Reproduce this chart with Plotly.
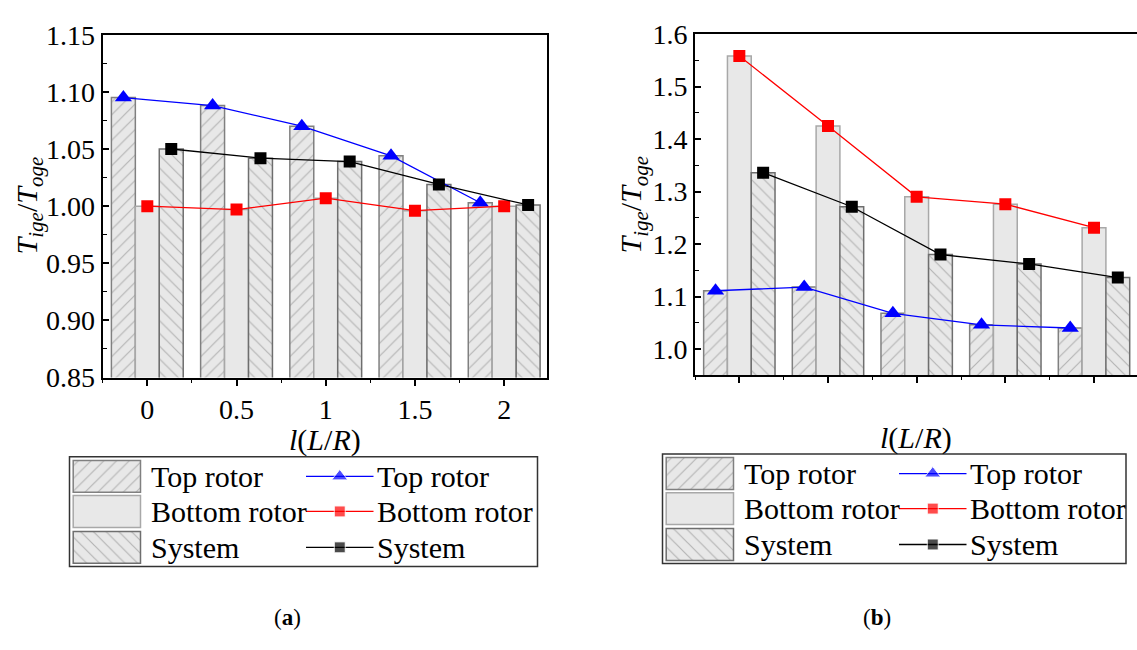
import plotly.graph_objects as go

# ---------------- data ----------------
x_pos = [0, 0.5, 1, 1.5, 2]
x_labels = ["0", "0.5", "1", "1.5", "2"]
series_names = ["Top rotor", "Bottom rotor", "System"]

a_top = [1.095, 1.088, 1.070, 1.044, 1.003]
a_bottom = [1.000, 0.997, 1.007, 0.996, 1.000]
a_system = [1.050, 1.042, 1.039, 1.019, 1.001]

b_top = [1.111, 1.118, 1.068, 1.046, 1.040]
b_bottom = [1.558, 1.425, 1.290, 1.276, 1.231]
b_system = [1.336, 1.271, 1.180, 1.162, 1.136]

a_yticks = [0.85, 0.90, 0.95, 1.00, 1.05, 1.10, 1.15]
b_yticks = [1.0, 1.1, 1.2, 1.3, 1.4, 1.5, 1.6]

# ---------------- style ----------------
W, H = 1137, 650
FONT = "Liberation Serif"
FS_TICK = 28
FS_LEG = 30
FS_TITLE = 30
BARGAP = 0.195
BAR_BG = "#e8e8e8"
HATCH = "#808080"
patterns = ["/", "", "\\"]
outline = ["#808080", "#a8a8a8", "#6e6e6e"]
line_colors = ["#0000ff", "#ff0000", "#000000"]
symbols = ["triangle-up", "square", "square"]
msizes = [15, 12, 12]

spacing = x_pos[1] - x_pos[0]
bar_w = (1 - BARGAP) * spacing / 3
offsets = [-bar_w, 0, bar_w]


def px_x(v):
    return v / W


def px_y(v):
    return 1 - v / H


fig = go.Figure()

panels = [
    dict(xa="x", ya="y", data=[a_top, a_bottom, a_system]),
    dict(xa="x2", ya="y2", data=[b_top, b_bottom, b_system]),
]

for p in panels:
    for i, vals in enumerate(p["data"]):
        fig.add_trace(go.Bar(
            x=x_pos, y=vals, name=series_names[i], xaxis=p["xa"], yaxis=p["ya"],
            offsetgroup=str(i), showlegend=False,
            marker=dict(color=BAR_BG,
                        line=dict(color=outline[i], width=1.5),
                        pattern=dict(shape=patterns[i], fgcolor=HATCH, bgcolor=BAR_BG,
                                     size=9, solidity=0.13)),
        ))
    for i, vals in enumerate(p["data"]):
        fig.add_trace(go.Scatter(
            x=[xv + offsets[i] for xv in x_pos], y=vals, name=series_names[i],
            xaxis=p["xa"], yaxis=p["ya"], mode="lines+markers", showlegend=False,
            line=dict(color=line_colors[i], width=1.3),
            marker=dict(symbol=symbols[i], size=msizes[i], color=line_colors[i]),
        ))

# ---------------- custom legends ----------------
row_c = [20.5, 57.3, 95.0]
sw_h = 33.5
sw_x0, sw_w = 3.7, 67.3
txt1_x = 79
ln_x0, ln_x1 = 236.5, 304
txt2_x = 305

legend_boxes = [
    dict(xa="x3", ya="y3", x0=69.5, x1=537.5, y0=464, y1=579),
    dict(xa="x4", ya="y4", x0=662.5, x1=1126, y0=461, y1=576),
]
annotations = []
shapes = []
for lb in legend_boxes:
    fig.add_trace(go.Bar(
        y=row_c, x=[sw_w] * 3, base=sw_x0, orientation="h", width=sw_h,
        xaxis=lb["xa"], yaxis=lb["ya"], showlegend=False, hoverinfo="skip",
        marker=dict(color=BAR_BG, line=dict(color=outline, width=1.5),
                    pattern=dict(shape=patterns, fgcolor=HATCH, bgcolor=BAR_BG,
                                 size=9, solidity=0.13)),
    ))
    for i, name in enumerate(series_names):
        fig.add_trace(go.Scatter(
            x=[ln_x0, (ln_x0 + ln_x1) / 2, ln_x1], y=[row_c[i]] * 3,
            xaxis=lb["xa"], yaxis=lb["ya"], mode="lines+markers", showlegend=False,
            hoverinfo="skip",
            line=dict(color=line_colors[i], width=1.3),
            marker=dict(symbol=symbols[i], size=[0, msizes[i] - 1, 0], color=line_colors[i]),
        ))
        annotations.append(dict(x=txt1_x, y=row_c[i], xref=lb["xa"], yref=lb["ya"],
                                text=name, showarrow=False, xanchor="left", yanchor="middle",
                                font=dict(family=FONT, size=FS_LEG, color="black")))
        annotations.append(dict(x=txt2_x, y=row_c[i], xref=lb["xa"], yref=lb["ya"],
                                text=name, showarrow=False, xanchor="left", yanchor="middle",
                                font=dict(family=FONT, size=FS_LEG, color="black")))
    shapes.append(dict(type="rect", xref="paper", yref="paper",
                       x0=px_x(lb["x0"]), x1=px_x(lb["x1"]),
                       y0=px_y(lb["y1"]), y1=px_y(lb["y0"]),
                       line=dict(color="#333333", width=1.5)))

# ---------------- axis titles & captions ----------------
ytitle = "<i>T</i><sub><i>ige</i></sub>/<i>T</i><sub><i>oge</i></sub>"
xtitle = "<i>l</i>(<i>L</i>/<i>R</i>)"
for (xx, yy) in [(29, 200), (633, 199)]:
    annotations.append(dict(x=px_x(xx), y=px_y(yy), xref="paper", yref="paper", text=ytitle,
                            textangle=-90, showarrow=False, xanchor="center", yanchor="middle",
                            font=dict(family=FONT, size=FS_TITLE, color="black")))
for (xx, yy) in [(325, 446), (916, 444)]:
    annotations.append(dict(x=px_x(xx), y=px_y(yy), xref="paper", yref="paper", text=xtitle,
                            showarrow=False, xanchor="center", yanchor="middle",
                            font=dict(family=FONT, size=FS_TITLE, color="black")))
for (xx, yy, t) in [(287, 633, "(<b>a</b>)"), (877, 633, "(<b>b</b>)")]:
    annotations.append(dict(x=px_x(xx), y=px_y(yy), xref="paper", yref="paper", text=t,
                            showarrow=False, xanchor="center", yanchor="middle",
                            font=dict(family=FONT, size=23, color="black")))

axis_common = dict(showgrid=False, zeroline=False, showline=True, linecolor="black",
                   linewidth=2, tickcolor="black", tickwidth=1.5,
                   tickfont=dict(family=FONT, size=FS_TICK, color="black"))

fig.update_layout(
    width=W, height=H, margin=dict(l=0, r=0, t=0, b=0),
    paper_bgcolor="white", plot_bgcolor="white",
    font=dict(family=FONT, size=FS_TICK, color="black"),
    barmode="group", bargap=BARGAP, bargroupgap=0,
    showlegend=False,
    xaxis=dict(domain=[px_x(102.7), px_x(547)], range=[-0.25, 2.24], anchor="y",
               tickmode="array", tickvals=x_pos, ticktext=x_labels,
               ticks="outside", ticklen=6, mirror=True,
               minor=dict(dtick=0.25, tick0=0, ticks="outside", ticklen=3,
                          tickcolor="black", tickwidth=1.2),
               **axis_common),
    yaxis=dict(domain=[px_y(380.7), px_y(20.7)], range=[0.85, 1.15], anchor="x",
               tickmode="array", tickvals=a_yticks, tickformat=".2f",
               ticks="inside", ticklen=6, mirror=True, ticklabelstandoff=0,
               minor=dict(dtick=0.025, tick0=0.85, ticks="inside", ticklen=4,
                          tickcolor="black", tickwidth=1.2),
               **axis_common),
    xaxis2=dict(domain=[px_x(695), 1.0], range=[-0.25, 2.2424], anchor="y2",
                tickmode="array", tickvals=x_pos, showticklabels=False,
                ticks="outside", ticklen=6, mirror=True,
                minor=dict(dtick=0.25, tick0=0, ticks="outside", ticklen=3,
                           tickcolor="black", tickwidth=1.2),
                **axis_common),
    yaxis2=dict(domain=[px_y(378.3), px_y(20)], range=[0.95, 1.6], anchor="x2",
                tickmode="array", tickvals=b_yticks, tickformat=".1f",
                ticks="inside", ticklen=6, mirror=False, ticklabelstandoff=0,
                minor=dict(dtick=0.05, tick0=0.95, ticks="inside", ticklen=4,
                           tickcolor="black", tickwidth=1.2),
                **axis_common),
    xaxis3=dict(domain=[px_x(69.5), px_x(537.5)], range=[0, 468], visible=False, anchor="y3"),
    yaxis3=dict(domain=[px_y(579), px_y(464)], range=[115, 0], visible=False, anchor="x3"),
    xaxis4=dict(domain=[px_x(662.5), px_x(1126)], range=[0, 463.5], visible=False, anchor="y4"),
    yaxis4=dict(domain=[px_y(576), px_y(461)], range=[115, 0], visible=False, anchor="x4"),
    annotations=annotations,
    shapes=shapes,
)

fig.write_html("out.html")
